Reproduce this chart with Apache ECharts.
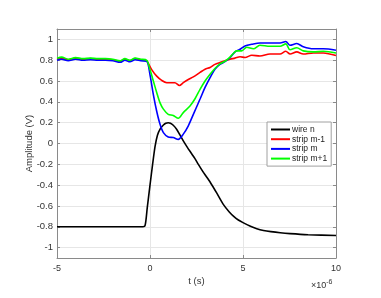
<!DOCTYPE html>
<html>
<head>
<meta charset="utf-8">
<script src="https://cdn.jsdelivr.net/npm/echarts@6/dist/echarts.min.js"></script>
<style>
html,body{margin:0;padding:0;background:#fff;}
#chart{width:381px;height:298px;}
</style>
</head>
<body>
<div id="chart"></div>
<script>
// ---- data (time in units of 1e-6 s, amplitude in V) ----
var seriesNames = ['wire n', 'strip m-1', 'strip m', 'strip m+1'];

var tWire = [-5, -4, -3, -2, -1, -0.5, -0.27, -0.15, 0, 0.14, 0.27, 0.4, 0.55, 0.72, 0.85, 0.98, 1.1, 1.25, 1.43, 1.6, 1.79, 2.0, 2.15, 2.4, 2.6, 2.9, 3.23, 3.6, 3.94, 4.25, 4.5, 4.75, 5, 5.4, 5.74, 6.1, 6.5, 7, 7.53, 8.5, 10];
var vWire = [-0.8, -0.8, -0.8, -0.8, -0.8, -0.8, -0.79, -0.62, -0.4, -0.2, -0.03, 0.08, 0.14, 0.178, 0.195, 0.2, 0.195, 0.175, 0.137, 0.085, 0.025, -0.035, -0.075, -0.14, -0.2, -0.285, -0.37, -0.48, -0.585, -0.655, -0.7, -0.735, -0.76, -0.795, -0.818, -0.835, -0.847, -0.858, -0.866, -0.876, -0.884];

var tStripM1 = [-5, -4.75, -4.4, -4.0, -3.6, -3.2, -2.8, -2.4, -2.0, -1.6, -1.35, -1.08, -0.8, -0.5, -0.18, -0.09, 0.09, 0.36, 0.63, 0.9, 1.16, 1.34, 1.58, 1.79, 2.06, 2.33, 2.69, 2.96, 3.23, 3.49, 3.76, 4.03, 4.3, 4.57, 4.84, 5.11, 5.47, 5.91, 6.45, 6.99, 7.3, 7.53, 7.89, 8.24, 8.78, 9.32, 10];
var vStripM1 = [0.81, 0.82, 0.805, 0.82, 0.81, 0.815, 0.81, 0.81, 0.805, 0.79, 0.81, 0.795, 0.815, 0.805, 0.795, 0.77, 0.71, 0.647, 0.606, 0.584, 0.584, 0.584, 0.557, 0.584, 0.615, 0.64, 0.683, 0.714, 0.73, 0.76, 0.778, 0.794, 0.81, 0.82, 0.833, 0.826, 0.848, 0.84, 0.86, 0.86, 0.886, 0.86, 0.88, 0.86, 0.87, 0.87, 0.845];

var tStripM = [-5, -4.75, -4.4, -4.0, -3.6, -3.2, -2.8, -2.4, -2.0, -1.6, -1.35, -1.08, -0.8, -0.5, -0.18, 0, 0.18, 0.36, 0.54, 0.72, 0.98, 1.25, 1.52, 1.79, 2.06, 2.33, 2.69, 2.96, 3.23, 3.49, 3.76, 4.03, 4.3, 4.57, 4.84, 5.11, 5.47, 5.91, 6.45, 6.99, 7.3, 7.53, 7.89, 8.24, 8.78, 9.32, 10];
var vStripM = [0.80, 0.81, 0.795, 0.81, 0.80, 0.805, 0.80, 0.80, 0.795, 0.78, 0.80, 0.785, 0.805, 0.795, 0.79, 0.66, 0.47, 0.31, 0.185, 0.105, 0.063, 0.057, 0.04, 0.09, 0.17, 0.28, 0.427, 0.539, 0.634, 0.714, 0.76, 0.786, 0.824, 0.88, 0.905, 0.937, 0.953, 0.966, 0.966, 0.966, 0.98, 0.944, 0.96, 0.93, 0.91, 0.91, 0.896];

var tStripP1 = [-5, -4.75, -4.4, -4.0, -3.6, -3.2, -2.8, -2.4, -2.0, -1.6, -1.35, -1.08, -0.8, -0.5, -0.18, 0, 0.18, 0.36, 0.54, 0.72, 0.98, 1.25, 1.52, 1.79, 2.15, 2.42, 2.69, 2.96, 3.23, 3.49, 3.76, 4.03, 4.3, 4.48, 4.66, 4.93, 5.2, 5.56, 5.91, 6.45, 6.99, 7.3, 7.53, 7.89, 8.24, 8.78, 9.32, 10];
var vStripP1 = [0.82, 0.83, 0.81, 0.825, 0.815, 0.82, 0.815, 0.815, 0.81, 0.795, 0.815, 0.80, 0.82, 0.81, 0.80, 0.71, 0.6, 0.49, 0.39, 0.33, 0.28, 0.27, 0.242, 0.297, 0.36, 0.43, 0.52, 0.6, 0.665, 0.72, 0.765, 0.79, 0.83, 0.865, 0.89, 0.89, 0.925, 0.91, 0.944, 0.934, 0.934, 0.957, 0.90, 0.92, 0.89, 0.88, 0.886, 0.87];

var xTicks = [-5, 0, 5, 10];
var yTicks = [-1, -0.8, -0.6, -0.4, -0.2, 0, 0.2, 0.4, 0.6, 0.8, 1];

var colors = ['#000000', '#ff0000', '#0000ff', '#00ff00'];

function pairs(t, v) { return t.map(function (x, i) { return [x, v[i]]; }); }

var chart = echarts.init(document.getElementById('chart'), null, {renderer: 'canvas'});
var fontFam = '"Liberation Sans", Arial, Helvetica, sans-serif';
var axisCol = '#8a8a8a';
var gridCol = '#e6e6e6';
var txtCol = '#333333';

var option = {
  animation: false,
  backgroundColor: '#ffffff',
  color: colors,
  grid: {left: 57, right: 45, top: 29, bottom: 40, containLabel: false},
  legend: {
    orient: 'vertical',
    left: 267, top: 122,
    padding: [3, 4, 3, 4],
    itemGap: 0.7,
    itemWidth: 19, itemHeight: 2,
    icon: 'rect',
    backgroundColor: '#ffffff',
    borderColor: '#a0a0a0',
    borderWidth: 1,
    borderRadius: 0,
    textStyle: {fontSize: 8.5, lineHeight: 9, color: '#222', fontFamily: fontFam, padding: [0, 0, 0, -3]},
    data: seriesNames
  },
  xAxis: [{
    type: 'value', min: -5, max: 10, interval: 5, position: 'bottom',
    name: 't (s)', nameLocation: 'middle', nameGap: 18, nameMoveOverlap: false,
    nameTextStyle: {fontSize: 9.5, color: txtCol, fontFamily: fontFam},
    axisLine: {show: true, onZero: false, lineStyle: {color: axisCol, width: 1}},
    axisTick: {show: true, inside: true, length: 3, lineStyle: {color: axisCol}, customValues: xTicks},
    axisLabel: {fontSize: 9, color: txtCol, fontFamily: fontFam, margin: 6, customValues: xTicks},
    splitLine: {show: true, lineStyle: {color: gridCol, width: 1}}
  }, {
    type: 'value', min: -5, max: 10, interval: 5, position: 'top',
    axisLine: {show: true, onZero: false, lineStyle: {color: axisCol, width: 1}},
    axisTick: {show: true, inside: true, length: 3, lineStyle: {color: axisCol}, customValues: xTicks},
    axisLabel: {show: false},
    splitLine: {show: false}
  }],
  yAxis: [{
    type: 'value', min: -1.1, max: 1.1, position: 'left',
    name: 'Amplitude (V)', nameLocation: 'middle', nameGap: 23, nameRotate: 90, nameMoveOverlap: false,
    nameTextStyle: {fontSize: 9.5, color: txtCol, fontFamily: fontFam},
    axisLine: {show: true, onZero: false, lineStyle: {color: axisCol, width: 1}},
    axisTick: {show: true, inside: true, length: 3, lineStyle: {color: axisCol}, customValues: yTicks},
    axisLabel: {fontSize: 9.5, color: txtCol, fontFamily: fontFam, margin: 4, customValues: yTicks,
      formatter: function (v) { return String(Math.round(v * 10) / 10); }},
    splitLine: {show: true, lineStyle: {color: gridCol, width: 1}, customValues: yTicks}
  }, {
    type: 'value', min: -1.1, max: 1.1, position: 'right',
    axisLine: {show: true, onZero: false, lineStyle: {color: axisCol, width: 1}},
    axisTick: {show: true, inside: true, length: 3, lineStyle: {color: axisCol}, customValues: yTicks},
    axisLabel: {show: false, customValues: yTicks},
    splitLine: {show: false}
  }],
  graphic: [{
    type: 'text', left: 311, top: 279,
    style: {
      text: '{a|\u00d710}{b|-6}',
      rich: {
        a: {fontSize: 9, fill: txtCol, fontFamily: fontFam, verticalAlign: 'bottom', lineHeight: 11},
        b: {fontSize: 7, fill: txtCol, fontFamily: fontFam, verticalAlign: 'top', lineHeight: 11, padding: [0, 0, 6, 0]}
      }
    }
  }],
  series: [
    {name: seriesNames[0], type: 'line', data: pairs(tWire, vWire), showSymbol: false, smooth: 0.2, lineStyle: {width: 1.6, color: colors[0]}, itemStyle: {color: colors[0]}},
    {name: seriesNames[1], type: 'line', data: pairs(tStripM1, vStripM1), showSymbol: false, smooth: 0.3, lineStyle: {width: 1.6, color: colors[1]}, itemStyle: {color: colors[1]}},
    {name: seriesNames[2], type: 'line', data: pairs(tStripM, vStripM), showSymbol: false, smooth: 0.3, lineStyle: {width: 1.6, color: colors[2]}, itemStyle: {color: colors[2]}},
    {name: seriesNames[3], type: 'line', data: pairs(tStripP1, vStripP1), showSymbol: false, smooth: 0.3, lineStyle: {width: 1.6, color: colors[3]}, itemStyle: {color: colors[3]}}
  ]
};
chart.setOption(option);
</script>
</body>
</html>
